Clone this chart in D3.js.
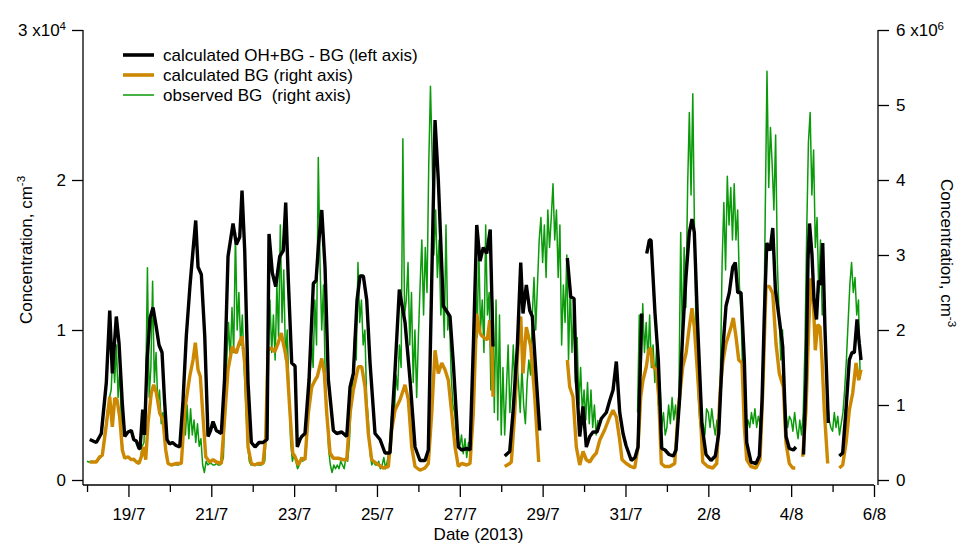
<!DOCTYPE html>
<html>
<head>
<meta charset="utf-8">
<script src="https://cdn.jsdelivr.net/npm/d3@7"></script>
<style>
  body { margin: 0; background: #fff; }
  text { font-family: Arial, "Liberation Sans", sans-serif; fill: #000; white-space: pre; }
</style>
</head>
<body>
<svg id="chart" width="963" height="545"></svg>
<script>
// Times are decimal days of July 2013 (32 = 1 August 00:00).
// OH+BG - BG in units of 1e4 cm-3, background (BG) values in units of 1e6 cm-3.
// null marks a break in the record.

const ohMinusBg = [
  [18.065,0.27],[18.225,0.25],[18.345,0.31],[18.466,0.65],[18.548,1.13],[18.611,0.71],[18.707,1.09],[18.773,0.91],[18.852,0.51],[18.910,0.29],
  [18.990,0.32],[19.070,0.33],[19.127,0.27],[19.190,0.26],[19.255,0.21],[19.280,0.21],[19.345,0.47],[19.388,0.30],[19.449,0.80],[19.521,1.08],
  [19.593,1.15],[19.666,1.03],[19.738,0.90],[19.811,0.85],[19.871,0.53],[19.931,0.27],[19.992,0.24],[20.064,0.25],[20.149,0.23],[20.238,0.22],
  [20.318,0.53],[20.397,0.96],[20.487,1.30],[20.559,1.53],[20.624,1.73],[20.680,1.42],[20.760,1.37],[20.842,0.96],[20.921,0.29],[20.982,0.33],
  [21.042,0.39],[21.122,0.33],[21.242,0.31],[21.320,0.67],[21.404,1.49],[21.525,1.71],[21.605,1.57],[21.687,1.62],[21.742,1.93],[21.807,1.53],
  [21.887,0.65],[21.967,0.25],[22.056,0.22],[22.153,0.25],[22.249,0.25],[22.346,0.27],[22.394,1.64],[22.474,1.38],[22.556,1.29],[22.652,1.49],
  [22.739,1.53],[22.797,1.85],[22.860,1.33],[22.942,0.78],[23.022,0.76],[23.077,0.22],[23.142,0.27],[23.183,0.29],[23.263,0.31],[23.360,0.67],
  [23.464,1.31],[23.529,1.33],[23.589,1.57],[23.667,1.80],[23.746,1.42],[23.826,0.67],[23.947,0.33],[24.029,0.31],[24.149,0.32],[24.270,0.29],
  [24.350,0.62],[24.430,0.71],[24.519,1.20],[24.591,1.36],[24.671,1.36],[24.753,1.20],[24.833,0.78],[24.953,0.31],[25.074,0.27],[25.195,0.18],
  [25.315,0.18],[25.436,0.73],[25.540,1.27],[25.678,1.05],[25.798,0.67],[25.919,0.22],[26.039,0.13],[26.160,0.13],[26.240,0.20],[26.322,1.33],
  [26.402,2.40],[26.481,2.00],[26.602,1.16],[26.764,1.09],[26.843,0.78],[26.964,0.22],[27.046,0.20],[27.167,0.21],[27.247,0.20],[27.331,0.93],
  [27.409,1.70],[27.488,1.46],[27.568,1.55],[27.650,1.51],[27.734,1.67],[27.802,0.89],[27.940,null],
  [28.084,0.16],[28.205,0.19],[28.285,0.45],[28.389,0.89],[28.471,1.45],[28.526,1.11],[28.606,1.30],[28.688,1.13],[28.751,1.09],[28.848,0.67],
  [28.930,0.33],[29.300,null],
  [29.596,1.48],[29.678,1.22],[29.758,1.21],[29.813,0.67],[29.895,0.29],[29.975,0.49],[30.055,0.22],[30.137,0.29],[30.216,0.32],[30.313,0.32],
  [30.417,0.41],[30.538,0.45],[30.620,0.53],[30.700,0.60],[30.779,0.79],[30.861,0.45],[30.941,0.31],[31.013,0.23],[31.141,0.13],[31.230,0.15],
  [31.303,0.22],[31.392,1.11],[31.450,null],
  [31.513,1.51],[31.576,1.60],[31.617,1.60],[31.713,1.11],[31.793,0.80],[31.875,0.21],[31.955,0.20],[32.051,0.17],[32.155,0.16],[32.220,0.20],
  [32.304,0.53],[32.382,0.98],[32.462,1.36],[32.541,1.65],[32.606,1.74],[32.662,1.65],[32.744,1.02],[32.848,0.36],[32.944,0.17],[33.065,0.13],
  [33.169,0.16],[33.251,0.31],[33.331,0.80],[33.427,1.16],[33.507,1.25],[33.589,1.42],[33.652,1.45],[33.710,1.25],[33.789,1.25],[33.869,0.80],
  [33.927,0.25],[34.031,0.12],[34.151,0.11],[34.232,0.16],[34.297,0.53],[34.353,1.11],[34.411,1.58],[34.491,1.53],[34.556,1.68],[34.619,1.27],
  [34.714,1.07],[34.796,0.89],[34.876,0.29],[34.955,0.21],[35.052,0.20],[35.116,0.22],[35.200,null],
  [35.298,0.17],[35.358,0.67],[35.407,1.47],[35.443,1.71],[35.503,1.50],[35.552,1.20],[35.612,1.07],[35.660,1.33],[35.709,1.30],[35.762,1.58],
  [35.817,1.00],[35.897,0.38],[36.000,null],
  [36.162,0.16],[36.244,0.18],[36.324,0.47],[36.404,0.80],[36.469,0.85],[36.525,0.85],[36.590,1.07],[36.645,0.91],[36.687,0.80]
];

const bgCalculated = [
  [18.065,0.24],[18.225,0.24],[18.307,0.31],[18.369,0.33],[18.451,0.67],[18.548,1.11],[18.611,0.71],[18.669,1.09],[18.724,1.07],[18.789,0.84],
  [18.852,0.40],[18.910,0.29],[18.990,0.31],[19.070,0.27],[19.127,0.28],[19.190,0.24],[19.255,0.22],[19.311,0.31],[19.369,0.44],[19.417,0.27],
  [19.473,0.76],[19.552,1.16],[19.610,1.27],[19.673,1.16],[19.755,0.89],[19.835,0.80],[19.900,0.40],[19.956,0.22],[20.035,0.20],[20.156,0.22],
  [20.277,0.22],[20.359,0.93],[20.479,1.38],[20.559,1.60],[20.615,1.83],[20.680,1.47],[20.735,1.38],[20.800,0.84],[20.866,0.31],[20.962,0.24],
  [21.042,0.27],[21.122,0.24],[21.242,0.22],[21.324,0.84],[21.404,1.47],[21.508,1.78],[21.604,1.69],[21.670,1.82],[21.742,1.91],[21.822,1.47],
  [21.887,0.44],[21.967,0.22],[22.049,0.20],[22.128,0.22],[22.249,0.22],[22.314,0.58],[22.370,1.73],[22.450,1.76],[22.532,1.71],[22.611,1.82],
  [22.691,1.96],[22.739,1.82],[22.821,1.60],[22.901,0.89],[22.966,0.36],[23.022,0.31],[23.101,0.20],[23.183,0.29],[23.263,0.27],[23.343,0.89],
  [23.425,1.24],[23.505,1.33],[23.560,1.38],[23.666,1.62],[23.729,1.42],[23.787,0.89],[23.867,0.36],[23.946,0.29],[24.067,0.29],[24.188,0.27],
  [24.270,0.27],[24.350,0.89],[24.429,1.20],[24.550,1.51],[24.632,1.51],[24.712,1.24],[24.791,0.62],[24.873,0.27],[24.994,0.22],[25.154,0.16],
  [25.274,0.18],[25.356,0.67],[25.436,0.93],[25.557,1.07],[25.677,1.27],[25.757,1.07],[25.839,0.44],[25.919,0.18],[26.039,0.13],[26.160,0.16],
  [26.240,0.22],[26.322,0.89],[26.402,1.73],[26.481,1.42],[26.564,1.56],[26.643,1.47],[26.723,1.33],[26.805,0.89],[26.885,0.44],[26.964,0.18],
  [27.046,0.22],[27.167,0.20],[27.247,0.22],[27.326,0.89],[27.408,2.22],[27.488,1.96],[27.519,1.93],[27.602,1.89],[27.664,1.87],[27.722,2.13],
  [27.778,1.69],[27.802,1.11],[27.940,null],
  [28.084,0.18],[28.205,0.22],[28.244,0.24],[28.326,0.89],[28.405,1.78],[28.471,2.18],[28.526,1.42],[28.606,2.04],[28.712,1.78],[28.809,1.11],
  [28.905,0.24],[29.300,null],
  [29.596,1.60],[29.654,1.24],[29.733,1.11],[29.813,0.44],[29.895,0.20],[29.975,0.38],[30.055,0.27],[30.137,0.24],[30.216,0.31],[30.296,0.36],
  [30.378,0.53],[30.499,0.67],[30.619,0.84],[30.699,0.93],[30.779,0.84],[30.861,0.53],[30.917,0.27],[31.020,0.22],[31.126,0.18],[31.223,0.16],
  [31.303,0.44],[31.368,1.11],[31.423,1.33],[31.503,1.51],[31.561,1.73],[31.609,1.76],[31.665,1.51],[31.745,1.47],[31.802,1.11],[31.865,0.22],
  [31.947,0.18],[32.068,0.18],[32.189,0.22],[32.268,0.89],[32.382,1.51],[32.462,1.69],[32.541,2.04],[32.606,2.29],[32.662,2.04],[32.744,1.38],
  [32.824,0.71],[32.865,0.24],[32.985,0.18],[33.106,0.16],[33.203,0.22],[33.282,1.16],[33.347,1.56],[33.427,1.82],[33.548,2.04],[33.603,2.16],
  [33.668,1.91],[33.734,1.60],[33.813,1.56],[33.869,0.71],[33.927,0.27],[34.031,0.18],[34.151,0.16],[34.248,0.27],[34.313,1.16],[34.393,2.58],
  [34.473,2.58],[34.555,2.49],[34.634,1.82],[34.714,1.42],[34.811,1.24],[34.876,0.49],[34.955,0.22],[35.037,0.16],[35.100,0.16],[35.200,null],
  [35.279,0.31],[35.358,0.93],[35.424,2.04],[35.479,2.69],[35.535,2.40],[35.583,1.73],[35.641,2.07],[35.697,2.04],[35.745,1.60],[35.800,0.93],
  [35.882,0.22],[36.000,null],
  [36.162,0.16],[36.244,0.20],[36.324,0.49],[36.404,0.93],[36.486,1.16],[36.566,1.56],[36.631,1.33],[36.687,1.47]
];

// Observed background: hourly samples starting 18 July 00:00, one row per day.
const bgObservedStart = 18;
const bgObserved = [
  0.25,0.24,0.24,0.25,0.24,0.25,0.26,0.28,0.30,0.35,0.60,0.75,0.95,1.10,1.20,1.75,1.30,1.80,1.10,1.50,0.60,0.35,0.30,0.30, // 18/7
  0.30,0.28,0.27,0.26,0.25,0.25,0.24,0.30,0.45,0.50,1.20,2.83,1.10,1.50,2.65,1.30,1.70,1.00,1.20,0.75,0.90,0.50,0.30,0.22, // 19/7
  0.22,0.20,0.20,0.21,0.20,0.20,0.22,0.30,0.90,0.60,1.00,0.55,0.95,0.60,0.80,0.50,0.75,0.45,0.55,0.20,0.10,0.25,0.20,0.22, // 20/7
  0.22,0.20,0.20,0.22,0.20,0.20,0.22,0.30,1.00,1.60,2.10,1.60,2.30,1.70,3.30,2.00,2.50,1.80,2.20,1.50,1.00,0.50,0.25,0.20, // 21/7
  0.20,0.20,0.22,0.20,0.20,0.20,0.22,0.25,0.70,1.80,2.40,1.70,2.20,1.60,2.60,1.90,3.40,2.10,2.80,1.60,2.00,1.20,0.50,0.25, // 22/7
  0.35,0.25,0.15,0.20,0.30,0.25,0.30,0.40,0.80,1.20,1.90,1.50,2.40,1.80,4.30,2.90,2.00,2.60,1.40,0.90,0.40,0.20,0.10,0.20, // 23/7
  0.15,0.20,0.15,0.25,0.20,0.15,0.30,0.25,0.50,1.00,1.30,1.90,1.60,2.90,2.10,2.40,1.80,2.00,1.10,0.80,0.35,0.20,0.25,0.20, // 24/7
  0.20,0.25,0.15,0.20,0.30,0.15,0.25,0.40,0.70,1.00,0.80,1.40,1.20,1.80,1.50,4.55,2.20,2.40,2.90,1.80,2.50,1.30,2.00,1.10, // 25/7
  1.90,2.60,3.20,2.20,3.10,2.50,4.20,5.25,4.30,3.00,3.60,2.70,3.20,2.20,2.60,1.90,3.40,2.00,2.20,1.40,1.00,0.90,0.60,0.50, // 26/7
  0.45,0.60,0.35,0.55,0.30,0.50,0.40,0.80,1.40,2.80,1.90,3.10,2.00,2.40,1.70,3.40,2.20,2.50,1.20,2.40,0.90,2.40,0.80,2.20, // 27/7
  0.60,1.50,0.60,1.20,1.80,0.90,1.30,1.80,1.10,1.60,1.30,0.90,1.50,1.00,0.75,1.30,1.60,1.40,2.20,2.70,2.00,2.60,3.20,3.50, // 28/7
  2.90,3.40,2.70,3.60,3.10,3.50,3.95,3.20,3.60,2.70,3.40,1.80,2.60,2.10,3.00,1.60,2.60,1.70,2.30,1.30,1.90,1.00,1.50,0.90, // 29/7
  1.20,0.80,1.30,0.75,1.20,0.70,1.00,0.60,0.80,null,null,null,null,null,null,null,null,null,null,null,null,null,null,null, // 30/7
  null,null,null,null,null,null,null,0.90,2.20,1.40,2.35,1.70,2.10,1.60,2.20,1.50,1.80,1.30,1.75,1.00,1.30,0.70,0.90,0.60, // 31/7
  0.70,1.00,0.75,1.10,0.80,1.00,0.70,1.20,3.30,1.80,3.10,2.30,3.90,4.90,3.80,5.15,3.30,1.80,1.20,0.80,0.60,0.75,0.60,0.95, // 1/8
  0.90,0.70,0.95,0.75,0.60,0.80,0.60,1.40,2.90,3.70,2.80,4.05,3.40,3.90,3.20,3.95,3.20,3.60,2.60,2.20,1.30,0.90,0.70,0.80, // 2/8
  0.70,0.90,0.75,0.95,0.70,0.85,0.75,0.90,1.60,3.60,5.45,3.90,4.70,4.20,3.60,4.60,2.90,2.20,1.60,2.00,1.20,0.90,0.70,0.85, // 3/8
  0.80,0.65,0.90,0.70,0.55,0.80,0.60,0.90,1.80,3.30,4.50,4.90,3.80,4.40,3.10,3.50,2.50,3.20,2.20,2.40,1.60,1.10,0.80,0.70, // 4/8
  0.65,0.90,0.70,0.85,0.60,0.75,0.90,1.20,1.60,2.10,2.60,2.90,2.50,2.70,2.20,2.40,1.35                                     // 5/8
];

const leftTicks = [0, 1, 2, 3];
const rightTicks = [0, 1, 2, 3, 4, 5, 6];
const leftExponent = "4";
const rightExponent = "6";
const legendLabels = [
  "calculated OH+BG - BG (left axis)",
  "calculated BG (right axis)",
  "observed BG  (right axis)"
];
const xTitle = "Date (2013)";
const yTitle = "Concentration, cm";
const yTitleExponent = "-3";

// ---- layout ----
const colors = { oh: "#000000", bgCalc: "#CC8800", bgObs: "#0A9A0A" };
const FONT = 17;
const plotLeft = 83, plotRight = 874, rightAxisX = 878;
const plotTop = 30, plotZero = 480, baseY = 485;

const svg = d3.select("#chart");

const july1 = new Date(2013, 6, 1).getTime();
const toDate = d => new Date(july1 + (d - 1) * 86400000);

const x = d3.scaleTime()
  .domain([new Date(2013, 6, 17, 21, 40), new Date(2013, 7, 6)])
  .range([plotLeft, plotRight]);
const yLeft = d3.scaleLinear().domain([0, 3]).range([plotZero, plotTop]);
const yRight = d3.scaleLinear().domain([0, 6]).range([plotZero, plotTop]);

// ---- series ----
const obsPoints = bgObserved.map((v, i) => [bgObservedStart + i / 24, v]);

const lineFor = y => d3.line()
  .defined(d => d[1] !== null)
  .x(d => x(toDate(d[0])))
  .y(d => y(d[1]));

const series = svg.append("g");
series.append("path").datum(obsPoints)
  .attr("d", lineFor(yRight))
  .attr("fill", "none").attr("stroke", colors.bgObs).attr("stroke-width", 1.5)
  .attr("stroke-linejoin", "round");
series.append("path").datum(bgCalculated)
  .attr("d", lineFor(yRight))
  .attr("fill", "none").attr("stroke", colors.bgCalc).attr("stroke-width", 3.4)
  .attr("stroke-linejoin", "bevel");
series.append("path").datum(ohMinusBg)
  .attr("d", lineFor(yLeft))
  .attr("fill", "none").attr("stroke", colors.oh).attr("stroke-width", 3.4)
  .attr("stroke-linejoin", "bevel");

// ---- axes ----
function styleAxis(g) {
  g.select(".domain").remove();
  g.selectAll(".tick line").attr("stroke", "#000").attr("stroke-width", 1.3);
  g.selectAll(".tick text").attr("font-size", FONT).attr("fill", "#000")
    .attr("font-family", "Arial, 'Liberation Sans', sans-serif");
}

function addExponent(g, top, base, exp) {
  g.selectAll(".tick text").filter(d => d === top).each(function () {
    const t = d3.select(this);
    t.text(null);
    t.append("tspan").text(base + " x10");
    t.append("tspan").attr("dy", "-0.55em").attr("font-size", 11.5).text(exp);
  });
}

const gLeft = svg.append("g").attr("transform", `translate(${plotLeft},0)`)
  .call(d3.axisLeft(yLeft).tickValues(leftTicks).tickSize(11).tickPadding(6).tickSizeOuter(0)
    .tickFormat(d3.format("d")));
styleAxis(gLeft);
addExponent(gLeft, 3, "3", leftExponent);

const gRight = svg.append("g").attr("transform", `translate(${rightAxisX},0)`)
  .call(d3.axisRight(yRight).tickValues(rightTicks).tickSize(11).tickPadding(7).tickSizeOuter(0)
    .tickFormat(d3.format("d")));
styleAxis(gRight);
addExponent(gRight, 6, "6", rightExponent);

const allDays = d3.timeDay.range(new Date(2013, 6, 18), new Date(2013, 7, 7));
const majorDays = allDays.filter((d, i) => i % 2 === 1);
const minorDays = allDays.filter((d, i) => i % 2 === 0);

const gMinor = svg.append("g").attr("transform", `translate(0,${baseY})`)
  .call(d3.axisBottom(x).tickValues(minorDays).tickSize(7).tickFormat(""));
styleAxis(gMinor);
const gMajor = svg.append("g").attr("transform", `translate(0,${baseY})`)
  .call(d3.axisBottom(x).tickValues(majorDays).tickSize(12).tickPadding(11)
    .tickFormat(d3.timeFormat("%-d/%-m")));
styleAxis(gMajor);

// axis lines
const axisLines = svg.append("g").attr("stroke", "#000").attr("stroke-width", 1.3);
axisLines.append("line").attr("x1", plotLeft).attr("x2", plotLeft).attr("y1", plotTop).attr("y2", baseY);
axisLines.append("line").attr("x1", plotLeft).attr("x2", plotRight).attr("y1", baseY).attr("y2", baseY);
axisLines.append("line").attr("x1", rightAxisX).attr("x2", rightAxisX).attr("y1", plotTop).attr("y2", baseY);

// ---- titles ----
svg.append("text").attr("x", (plotLeft + plotRight) / 2).attr("y", 540)
  .attr("text-anchor", "middle").attr("font-size", FONT).text(xTitle);

function yAxisTitle(tx, ty, angle) {
  const t = svg.append("text")
    .attr("transform", `translate(${tx},${ty}) rotate(${angle})`)
    .attr("text-anchor", "middle").attr("font-size", FONT);
  t.append("tspan").text(yTitle);
  t.append("tspan").attr("dy", "-0.6em").attr("font-size", 11.5).text(yTitleExponent);
}
yAxisTitle(32, 250, -90);
yAxisTitle(941, 253, 90);

// ---- legend ----
const legendItems = [
  { label: legendLabels[0], color: colors.oh, width: 3.6 },
  { label: legendLabels[1], color: colors.bgCalc, width: 3.6 },
  { label: legendLabels[2], color: colors.bgObs, width: 1.5 }
];
const legend = svg.append("g");
legendItems.forEach((item, i) => {
  const ly = 55 + i * 20;
  legend.append("line").attr("x1", 123).attr("x2", 154).attr("y1", ly).attr("y2", ly)
    .attr("stroke", item.color).attr("stroke-width", item.width);
  legend.append("text").attr("x", 163).attr("y", ly + 6)
    .attr("font-size", FONT).text(item.label);
});
</script>
</body>
</html>
